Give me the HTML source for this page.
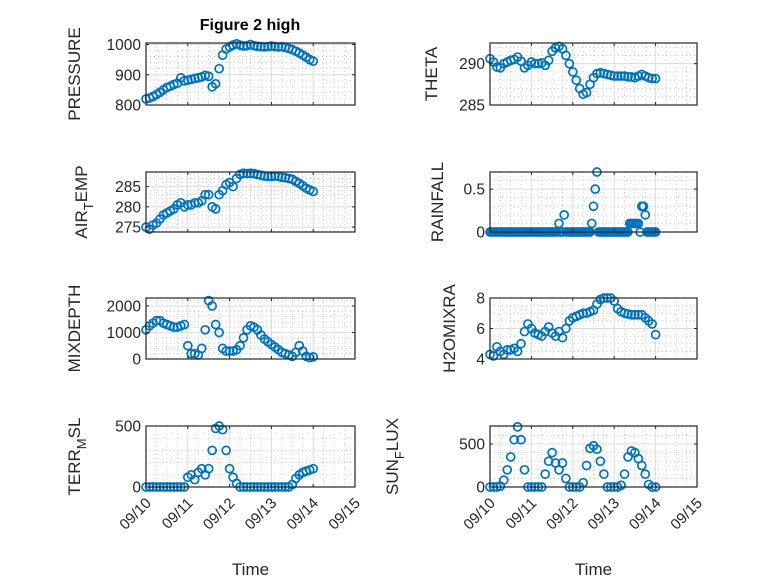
<!DOCTYPE html>
<html><head><meta charset="utf-8"><style>
body{margin:0;background:#fff}
svg{display:block;font-family:"Liberation Sans",sans-serif}
</style></head><body>
<svg id="fig" width="778" height="583" viewBox="0 0 778 583"></svg>
<script>
const days=['09/10','09/11','09/12','09/13','09/14','09/15'];
const t2=[];for(let h=0;h<=96;h+=2)t2.push(h);
const t1=[];for(let h=0;h<=96;h+=1)t1.push(h);
const pressure=[820,823,828,835,842,850,858,862,868,872,890,880,882,885,888,890,893,898,895,860,870,920,965,985,992,998,1002,998,995,996,1000,996,994,993,992,993,995,993,992,993,990,987,983,978,972,965,958,950,945];
const theta=[290.6,290.2,289.6,289.5,290.0,290.2,290.4,290.5,290.8,290.3,289.5,289.8,290.2,290.0,290.0,290.1,289.8,290.4,291.5,291.9,292.1,291.8,291.0,290.0,289.0,288.0,287.0,286.3,286.5,287.5,288.3,288.8,288.9,288.8,288.7,288.6,288.5,288.5,288.5,288.5,288.4,288.4,288.3,288.5,288.7,288.5,288.3,288.2,288.2];
const airTemp=[275,274.5,275.5,276,277,278,278.5,279,279.5,280.5,281,280,280.5,280.5,281,281,281.5,283,283,280,279.5,283,284,285.5,286,285,287,288,288.3,288.2,288.3,288.2,288.0,287.8,287.6,287.5,287.5,287.6,287.5,287.3,287.2,287.0,286.8,286.3,285.8,285.2,284.6,284.2,283.8];
const rainfall=[0,0,0,0,0,0,0,0,0,0,0,0,0,0,0,0,0,0,0,0,0,0,0,0,0,0,0,0,0,0,0,0,0,0,0,0,0,0,0,0,0.1,0,0,0.2,0,0,0,0,0,0,0,0,0,0,0,0,0,0,0,0.1,0.3,0.5,0.7,0,0,0,0,0,0,0,0,0,0,0,0,0,0,0,0,0,0,0.1,0.1,0.1,0.1,0.1,0.1,0,0.3,0.3,0.2,0,0,0,0,0,0];
const mixDepth=[1100,1250,1350,1450,1450,1350,1300,1250,1200,1200,1250,1300,500,200,200,150,400,1100,2200,2000,1300,1000,400,300,300,300,350,500,800,1100,1250,1200,1100,900,750,650,550,450,350,250,200,150,100,250,500,300,100,50,80];
const h2oMix=[4.3,4.2,4.8,4.5,4.3,4.6,4.6,4.7,4.5,5.0,5.8,6.3,6.0,5.7,5.6,5.5,5.8,6.1,5.7,5.5,5.8,5.4,6.0,6.5,6.7,6.8,6.9,7.0,7.0,7.1,7.2,7.6,7.9,8.0,8.0,8.0,7.8,7.3,7.1,7.0,6.95,6.9,6.9,6.9,6.9,6.7,6.5,6.3,5.6];
const terrMsl=[0,0,0,0,0,0,0,0,0,0,0,0,80,100,60,120,150,100,150,300,480,500,470,300,150,80,30,0,0,0,0,0,0,0,0,0,0,0,0,0,0,0,20,70,100,120,130,140,150];
const sunFlux=[0,0,0,10,80,200,350,550,700,550,200,0,0,0,0,0,150,300,400,280,200,280,100,0,0,0,0,50,250,450,480,440,300,150,0,0,0,0,20,150,350,420,400,330,250,150,30,0,0];

const NS='http://www.w3.org/2000/svg';
const svg=document.getElementById('fig');
function mk(tag,attrs,parent){const e=document.createElementNS(NS,tag);for(const k in attrs)e.setAttribute(k,attrs[k]);(parent||svg).appendChild(e);return e;}

const panels=[
 {key:'pressure',x0:146,x1:355,y0:43,y1:105,ymin:800,ymax:1005,ticks:[800,900,1000],t:t2,v:pressure,lab:['PRESSURE'],lx:80,minor:5},
 {key:'theta',x0:490,x1:697,y0:43,y1:105,ymin:285,ymax:292.5,ticks:[285,290],t:t2,v:theta,lab:['THETA'],lx:437,minor:5},
 {key:'air-temp',x0:146,x1:355,y0:172,y1:232,ymin:273.8,ymax:288.6,ticks:[275,280,285],t:t2,v:airTemp,lab:['AIR','T','EMP'],lx:87,minor:5},
 {key:'rainfall',x0:490,x1:697,y0:172,y1:232,ymin:0,ymax:0.7,ticks:[0,0.5],t:t1,v:rainfall,lab:['RAINFALL'],lx:443,minor:5},
 {key:'mixdepth',x0:146,x1:355,y0:298,y1:359,ymin:0,ymax:2300,ticks:[0,1000,2000],t:t2,v:mixDepth,lab:['MIXDEPTH'],lx:80,minor:5},
 {key:'h2omixra',x0:490,x1:697,y0:298,y1:359,ymin:4,ymax:8,ticks:[4,6,8],t:t2,v:h2oMix,lab:['H2OMIXRA'],lx:455,minor:4},
 {key:'terr-msl',x0:146,x1:355,y0:426,y1:487,ymin:0,ymax:500,ticks:[0,500],t:t2,v:terrMsl,lab:['TERR','M','SL'],lx:80,minor:5,xl:true},
 {key:'sun-flux',x0:490,x1:697,y0:426,y1:487,ymin:0,ymax:710,ticks:[0,500],t:t2,v:sunFlux,lab:['SUN','F','LUX'],lx:398,minor:5,xl:true}
];

panels.forEach(p=>{
 const g=mk('g',{});
 
 
 const X=h=>p.x0+(p.x1-p.x0)*h/120;
 const Y=v=>p.y1-(p.y1-p.y0)*(v-p.ymin)/(p.ymax-p.ymin);
 mk('rect',{x:p.x0,y:p.y0,width:p.x1-p.x0,height:p.y1-p.y0,fill:'#fff'},g);
 for(let h=0;h<=120;h+=6){if(h%24===0)continue;mk('line',{x1:X(h),x2:X(h),y1:p.y0,y2:p.y1,stroke:'#b8b8b8','stroke-width':0.7,'stroke-dasharray':'1 3'},g);}
 const step=p.ticks[1]-p.ticks[0];const ms=step/p.minor;
 for(let v=p.ticks[0]-step;v<=p.ymax+1e-9;v+=ms){if(v<p.ymin-1e-9)continue;mk('line',{x1:p.x0,x2:p.x1,y1:Y(v),y2:Y(v),stroke:'#b8b8b8','stroke-width':0.7,'stroke-dasharray':'1 3'},g);}
 days.forEach((d,i)=>{mk('line',{x1:X(i*24),x2:X(i*24),y1:p.y0,y2:p.y1,stroke:'#dcdcdc','stroke-width':1},g);});
 p.ticks.forEach(v=>{mk('line',{x1:p.x0,x2:p.x1,y1:Y(v),y2:Y(v),stroke:'#dcdcdc','stroke-width':1},g);});
 const dg=mk('g',{},g);
 
 
 p.v.forEach((v,i)=>{
  const c=mk('circle',{cx:X(p.t[i]),cy:Y(v),r:4,fill:'none',stroke:'#0072BD','stroke-width':1.7},dg);
  
  
 });
 mk('rect',{x:p.x0,y:p.y0,width:p.x1-p.x0,height:p.y1-p.y0,fill:'none',stroke:'#262626','stroke-width':1.2},g);
 days.forEach((d,i)=>{const x=X(i*24);
  mk('line',{x1:x,x2:x,y1:p.y1,y2:p.y1-3,stroke:'#262626'},g);
  mk('line',{x1:x,x2:x,y1:p.y0,y2:p.y0+3,stroke:'#262626'},g);
  if(p.xl){const ax=x+6,ay=p.y1+17;const tx=mk('text',{x:ax,y:ay,'font-size':15,fill:'#262626','text-anchor':'end',transform:`rotate(-45 ${ax} ${ay})`},g);tx.textContent=d;
   
   }
 });
 p.ticks.forEach(v=>{const y=Y(v);
  mk('line',{x1:p.x0,x2:p.x0+3,y1:y,y2:y,stroke:'#262626'},g);
  mk('line',{x1:p.x1,x2:p.x1-3,y1:y,y2:y,stroke:'#262626'},g);
  const tx=mk('text',{x:p.x0-5,y:y+5.5,'font-size':15.5,fill:'#262626','text-anchor':'end'},g);tx.textContent=String(v);
  
  
 });
 const cy=(p.y0+p.y1)/2;
 const yl=mk('text',{x:p.lx,y:cy,'font-size':17,fill:'#262626','text-anchor':'middle',transform:`rotate(-90 ${p.lx} ${cy})`},g);
 
 
 if(p.lab.length===1){yl.textContent=p.lab[0];}
 else{const a=mk('tspan',{},yl);a.textContent=p.lab[0];
  const b=mk('tspan',{dy:6,'font-size':13},yl);b.textContent=p.lab[1];
  const c=mk('tspan',{dy:-6},yl);c.textContent=p.lab[2];}
 if(p.xl){const xt=mk('text',{x:(p.x0+p.x1)/2,y:575,'font-size':17,fill:'#262626','text-anchor':'middle'},g);xt.textContent='Time';
  
  }
});
const title=mk('text',{x:250,y:30,'font-size':16,'font-weight':'bold',fill:'#000','text-anchor':'middle'});
title.textContent='Figure 2 high';


</script>
</body></html>
